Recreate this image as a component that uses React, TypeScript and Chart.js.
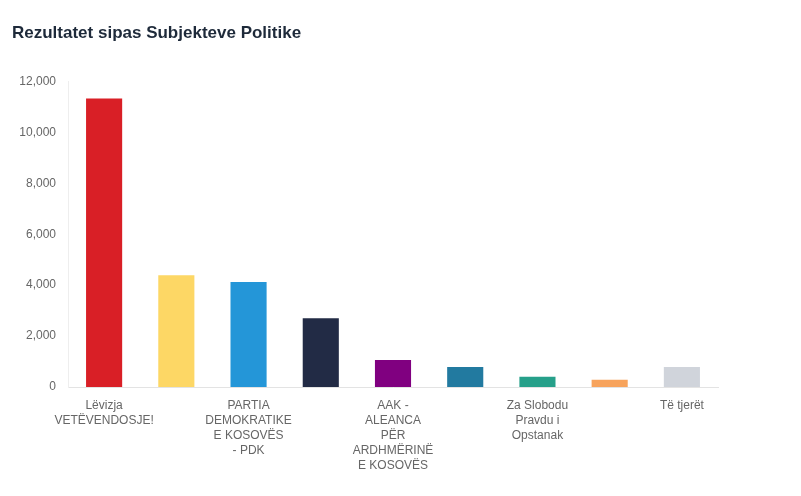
import React, { useEffect, useRef } from "react";
import { Chart, registerables } from "chart.js";

Chart.register(...registerables);

const titleText = "Rezultatet sipas Subjekteve Politike";

const categories: string[][] = [
  ["Lëvizja", "VETËVENDOSJE!"],
  ["LIDHJA", "DEMOKRATIKE", "E KOSOVËS", "- LDK"],
  ["PARTIA", "DEMOKRATIKE", "E KOSOVËS", "- PDK"],
  ["NISMA", "SOCIALDEMOKRATE"],
  ["AAK -", "ALEANCA", "PËR", "ARDHMËRINË", "E KOSOVËS"],
  ["Srpska", "Lista"],
  ["Za Slobodu", "Pravdu i", "Opstanak"],
  ["KDTP"],
  ["Të tjerët"],
];

const votes: number[] = [11330, 4390, 4120, 2700, 1060, 790, 400, 280, 790];

const barColors: string[] = [
  "#d91f26",
  "#fdd765",
  "#2496d8",
  "#222b45",
  "#800080",
  "#227aa0",
  "#26a08a",
  "#f7a35c",
  "#d0d4db",
];

const yTicks: number[] = [0, 2000, 4000, 6000, 8000, 10000, 12000];

export default function App() {
  const ref = useRef<HTMLCanvasElement | null>(null);

  useEffect(() => {
    if (!ref.current) return;
    const chart = new Chart(ref.current, {
      type: "bar",
      data: {
        labels: categories,
        datasets: [
          {
            data: votes,
            backgroundColor: barColors,
            borderWidth: 0,
            barPercentage: 0.5,
            categoryPercentage: 1,
          },
        ],
      },
      options: {
        animation: false,
        responsive: true,
        maintainAspectRatio: false,
        layout: { padding: { left: 12, right: 83, top: 0, bottom: 0 } },
        plugins: {
          legend: { display: false },
          tooltip: { enabled: false },
          title: {
            display: true,
            text: titleText,
            align: "start",
            color: "#1e2a3a",
            font: { family: "'Liberation Sans', Arial, sans-serif", size: 17, weight: "bold", lineHeight: 1.2 },
            padding: { top: 23, bottom: 38 },
          },
        },
        scales: {
          x: {
            grid: { display: false, drawTicks: false },
            border: { display: true, color: "#e3e3e3" },
            afterFit: (s: any) => {
              s.height = 109;
            },
            ticks: {
              autoSkip: false,
              maxRotation: 0,
              minRotation: 0,
              padding: 11,
              color: "#666666",
              font: { family: "'Liberation Sans', Arial, sans-serif", size: 12, lineHeight: 1.25 },
              callback: function (this: any, _v: any, i: number) {
                return i % 2 === 0 ? categories[i] : "";
              },
            },
          },
          y: {
            min: 0,
            max: 12000,
            afterBuildTicks: (s: any) => {
              s.ticks = yTicks.map((v) => ({ value: v }));
            },
            afterFit: (s: any) => {
              s.width = 56;
            },
            grid: { display: false, drawTicks: false },
            border: { display: true, color: "#eeeeee" },
            ticks: {
              padding: 12,
              color: "#666666",
              font: { family: "'Liberation Sans', Arial, sans-serif", size: 12 },
              callback: (v: any) => Number(v).toLocaleString("en-US"),
            },
          },
        },
      },
    });
    return () => chart.destroy();
  }, []);

  return (
    <div
      style={{
        position: "absolute",
        left: 0,
        top: 0,
        width: 801,
        height: 496,
        background: "#ffffff",
      }}
    >
      <canvas ref={ref} />
    </div>
  );
}
